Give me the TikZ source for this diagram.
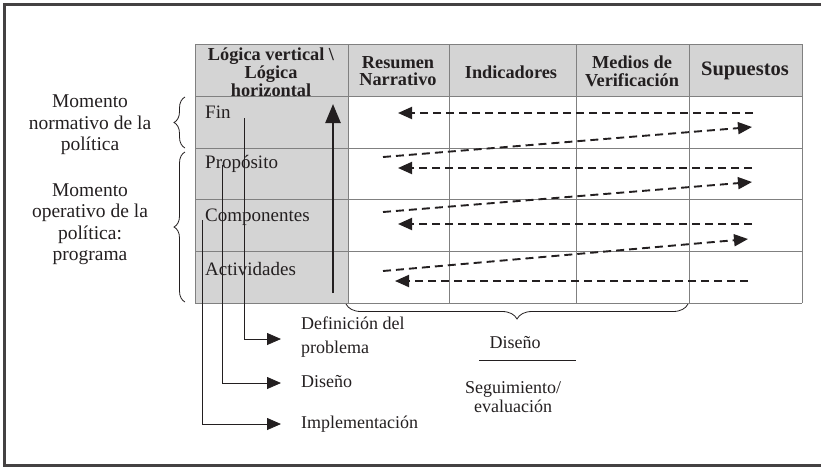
\documentclass[tikz,border=0pt]{standalone}
\usepackage{fontspec}
\setmainfont{Liberation Serif}
\usetikzlibrary{arrows.meta,decorations.pathreplacing}
\definecolor{ink}{HTML}{231F20}
\definecolor{cellgray}{HTML}{D4D4D4}
\definecolor{gridgray}{HTML}{808080}
\tikzset{
  gridline/.style={draw=gridgray,line width=1pt},
  hdr/.style={font=\fontsize{18.3}{16.5}\selectfont\bfseries,align=center,text=ink,inner sep=0pt},
  rowlbl/.style={font=\fontsize{19}{20}\selectfont,anchor=west,text=ink,inner sep=0pt},
  sidetxt/.style={font=\fontsize{19.5}{21.5}\selectfont,align=center,text=ink,inner sep=0pt},
  btxt/.style={font=\fontsize{18}{24}\selectfont,align=left,text=ink,inner sep=0pt},
  flow/.style={draw=ink,dashed,dash pattern=on 8pt off 5pt,line width=1.9pt,-{Triangle[length=14pt,width=12pt]}},
  leadarrow/.style={draw=ink,line width=0.8pt,-{Triangle[length=14pt,width=12pt]}},
  bracestyle/.style={draw=ink,line width=0.8pt,decorate},
}
\begin{document}
\begin{tikzpicture}[x=1pt,y=-1pt]
\useasboundingbox (0,0) rectangle (821,467);
% outer frame
\draw[ink!85,line width=3pt] (821,4.5) -- (4.5,4.5) -- (4.5,465) -- (821,465);
% fills
\fill[cellgray] (195,44) rectangle (802,96);
\fill[cellgray] (195,96) rectangle (348,303);
% grid
\foreach \y in {44,96,148,199,251,303} \draw[gridline] (195,\y) -- (802,\y);
\foreach \x in {195,348,449,576,689,802} \draw[gridline] (\x,44) -- (\x,303);
% headers
\node[hdr] (h0) at (271,72) {Lógica vertical \textbackslash\\Lógica\\horizontal};
\node[hdr,font=\fontsize{18.3}{17.5}\selectfont\bfseries] (h1) at (398,71) {Resumen\\Narrativo};
\node[hdr] (h2) at (511,72) {Indicadores};
\node[hdr,font=\fontsize{18.3}{18}\selectfont\bfseries] (h3) at (632,71) {Medios de\\Verificación};
\node[hdr,font=\fontsize{20.5}{20}\selectfont\bfseries] (h4) at (745,71) {Supuestos};
% row labels
\node[rowlbl] (fin) at (205,112) {Fin};
\node[rowlbl] (prop) at (205,164) {Propósito};
\node[rowlbl] (comp) at (205,217) {Componentes};
\node[rowlbl] (act) at (205,269) {Actividades};
% left texts and braces
\node[sidetxt] (norm) at (90,125) {Momento\\normativo de la\\política};
\node[sidetxt] (oper) at (90,224) {Momento\\operativo de la\\política:\\programa};
\draw[bracestyle,decoration={brace,amplitude=11pt}] (185,148) -- (185,97);
\draw[bracestyle,decoration={brace,amplitude=11pt}] (185,302) -- (185,152);
% vertical logic arrow
\coordinate (vb) at (333,293);
\coordinate (vt) at (333,104);
\draw[draw=ink,line width=2.5pt,-{Triangle[length=19pt,width=15pt]}] (vb) -- (vt);
% dashed zigzag
\coordinate (a1s) at (753,113); \coordinate (a1e) at (398,113);
\coordinate (b1s) at (383,157); \coordinate (b1e) at (752,127);
\coordinate (a2s) at (752,168); \coordinate (a2e) at (398,168);
\coordinate (b2s) at (383,212); \coordinate (b2e) at (752,182);
\coordinate (a3s) at (752,224); \coordinate (a3e) at (398,224);
\coordinate (b3s) at (383,271); \coordinate (b3e) at (748,239);
\coordinate (a4s) at (748,281); \coordinate (a4e) at (395,281);
\draw[flow] (a1s) -- (a1e);
\draw[flow] (b1s) -- (b1e);
\draw[flow] (a2s) -- (a2e);
\draw[flow] (b2s) -- (b2e);
\draw[flow] (a3s) -- (a3e);
\draw[flow] (b3s) -- (b3e);
\draw[flow] (a4s) -- (a4e);
% bottom leaders
\node[btxt,anchor=west] (def) at (301,337) {Definición del\\problema};
\node[btxt,anchor=west] (dis) at (301,382) {Diseño};
\node[btxt,anchor=west] (imp) at (301,424) {Implementación};
\coordinate (l1s) at (244,118); \coordinate (l1e) at (281,339);
\coordinate (l2s) at (222,165); \coordinate (l2e) at (281,383);
\coordinate (l3s) at (202,220); \coordinate (l3e) at (281,424);
\draw[leadarrow] (l1s) |- (l1e);
\draw[leadarrow] (l2s) |- (l2e);
\draw[leadarrow] (l3s) |- (l3e);
% bottom brace and fraction
\draw[bracestyle,decoration={brace,amplitude=15pt}] (688,304) -- (346,304);
\node[btxt,align=center] (dis2) at (515,343) {Diseño};
\coordinate (fl) at (479,360); \coordinate (fr) at (576,360);
\draw[draw=ink,line width=1pt] (fl) -- (fr);
\node[btxt,align=center,font=\fontsize{18}{19}\selectfont] (seg) at (513,397) {Seguimiento/\\evaluación};
\end{tikzpicture}
\end{document}
